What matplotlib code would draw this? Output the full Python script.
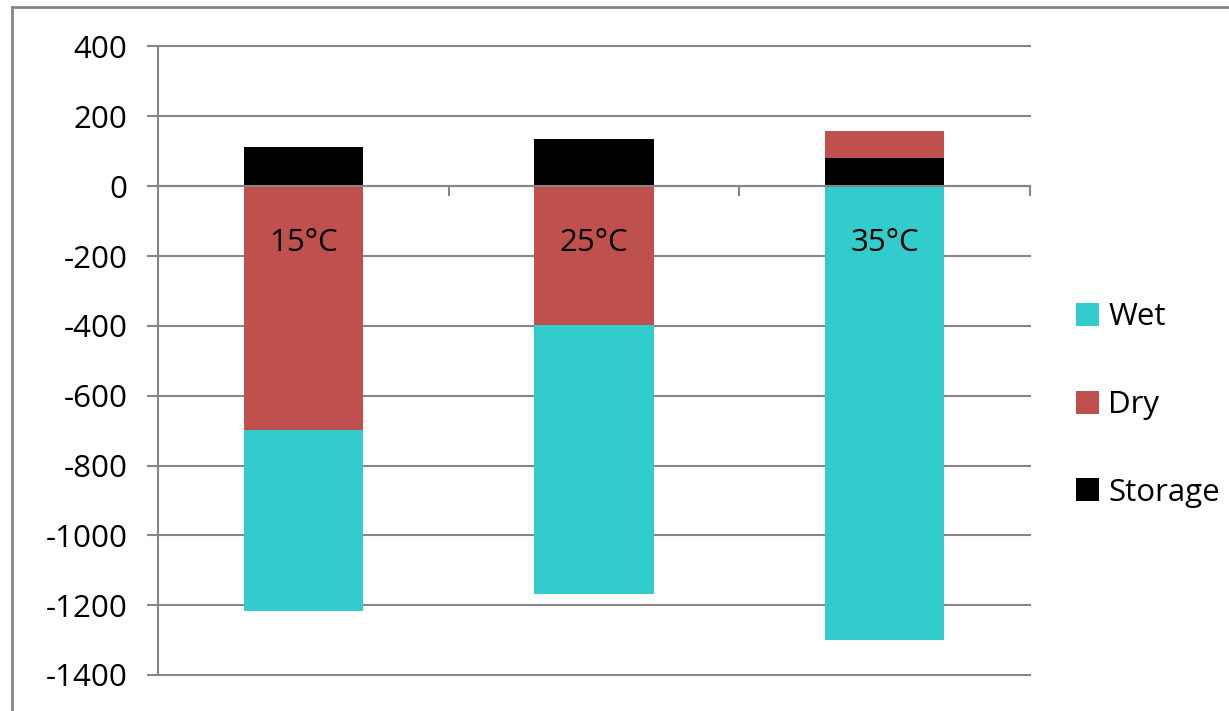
import numpy as np
import matplotlib.pyplot as plt
from matplotlib.lines import Line2D

# data (stacked in series order Storage, Dry, Wet as in the source chart)
categories = ['15°C', '25°C', '35°C']
storage = [113, 135, 80]
dry = [-697, -398, 77]
wet = [-520, -770, -1300]
yticks = [400, 200, 0, -200, -400, -600, -800, -1000, -1200, -1400]

series = [('Storage', storage, '#000000'),
          ('Dry', dry, '#C0504D'),
          ('Wet', wet, '#33CCCC')]

plt.rcParams['font.family'] = ['Open Sans', 'DejaVu Sans']
grey = '#868686'
fs = 22.5

fig = plt.figure(figsize=(12.29, 7.11), dpi=100)
ax = fig.add_axes([158 / 1229, 1 - 675 / 711, (1030 - 158) / 1229, (675 - 46.5) / 711])

x = np.arange(len(categories))
pos = np.zeros(len(categories))
neg = np.zeros(len(categories))
handles = {}
for name, vals, col in series:
    vals = np.array(vals, dtype=float)
    bottom = np.where(vals >= 0, pos, neg)
    bars = ax.bar(x, vals, width=0.41, bottom=bottom, color=col, label=name)
    handles[name] = bars
    pos = pos + np.clip(vals, 0, None)
    neg = neg + np.clip(vals, None, 0)

for xi, lab in zip(x, categories):
    ax.text(xi, -163, lab, ha='center', va='center', fontsize=fs)

ax.set_xlim(-0.5, 2.5)
ax.set_ylim(-1400, 400)
ax.set_yticks(yticks)
ax.set_yticklabels([str(t) for t in yticks], fontsize=fs)
ax.set_xticks([0.5, 1.5, 2.5])
ax.set_xticklabels([])
ax.grid(axis='y', color=grey, linewidth=1.5)
for gl in ax.get_ygridlines():
    gl.set_clip_on(False)
ax.set_axisbelow(True)
ax.tick_params(axis='y', length=8, width=1.5, color=grey, pad=14)
ax.tick_params(axis='x', length=7, width=1.5, color=grey, direction='out')
ax.spines['bottom'].set_position(('data', 0))
for s in ['bottom', 'left']:
    ax.spines[s].set_color(grey)
    ax.spines[s].set_linewidth(1.5)
ax.spines['top'].set_visible(False)
ax.spines['right'].set_visible(False)

# outer chart border (left and top visible)
fig.add_artist(Line2D([12 / 1229, 12 / 1229], [0, 1 - 7 / 711], color=grey, lw=2))
fig.add_artist(Line2D([12 / 1229, 1.01], [1 - 7 / 711, 1 - 7 / 711], color=grey, lw=2))

order = ['Wet', 'Dry', 'Storage']
fig.legend([handles[n] for n in order], order, loc='center left',
           bbox_to_anchor=(1063 / 1229, 1 - 405 / 711), frameon=False,
           fontsize=fs, handlelength=0.75, handleheight=0.75,
           handletextpad=0.3, labelspacing=1.85, borderaxespad=0)

fig.savefig('out.png', dpi=100)
